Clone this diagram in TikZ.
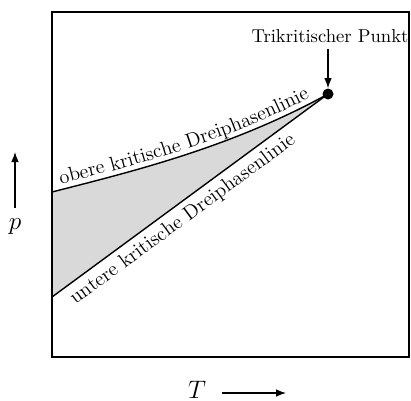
\documentclass[tikz,border=0pt]{standalone}
\usepackage{amsmath}
\usepackage{tikz}
\usetikzlibrary{arrows.meta,decorations.text}

\begin{document}
\begin{tikzpicture}[
  x=0.02cm, y=-0.02cm,
  frame/.style={draw, semithick},
  phaseline/.style={draw, thick},
  region/.style={fill=gray!30},
  arrow/.style={-{Latex[length=2mm]}, semithick},
  pointdot/.style={circle, fill, inner sep=0pt, minimum size=2.2mm}
]
\useasboundingbox (0,0) rectangle (411,400);

\coordinate (bl) at (52,357);
\coordinate (tr) at (409,12);
\coordinate (upstart) at (52,192);
\coordinate (lowstart) at (52,297);
\coordinate (tp) at (328,94);

% zwei Dreiphasenlinien mit Zwischenbereich
\fill[region] (upstart) .. controls (130,172) and (230,148) .. (tp)
  -- (lowstart) -- cycle;
\draw[frame] (bl) rectangle (tr);
\draw[phaseline] (upstart) .. controls (130,172) and (230,148) .. (tp);
\draw[phaseline] (lowstart) -- (tp);

\path[decorate, decoration={text along path, raise=3pt,
  text align={left indent=6pt},
  text={|\fontsize{11.5}{13}\selectfont|obere kritische Dreiphasenlinie}}]
  (upstart) .. controls (130,172) and (230,148) .. (tp);
\path[decorate, decoration={text along path, raise=-11.5pt,
  text align={left indent=8pt},
  text={|\fontsize{11.5}{13}\selectfont|untere kritische Dreiphasenlinie}}]
  (lowstart) -- (tp);

\node[pointdot] (tpdot) at (tp) {};
\node[font=\fontsize{10.6}{12}\selectfont] (tplabel) at (330,36)
  {Trikritischer Punkt};
\draw[arrow] (tplabel.south -| tpdot) -- (tpdot);

% Achsen
\node[font=\Large] (plabel) at (15,227) {$p$};
\coordinate (phead) at (15,152);
\draw[arrow, shorten <=1mm] (plabel) -- (phead);
\node[font=\Large] (tlabel) at (197,390) {$T$};
\coordinate (thead) at (286,393);
\draw[arrow, shorten <=2mm] (tlabel.east |- thead) -- (thead);
\end{tikzpicture}
\end{document}
